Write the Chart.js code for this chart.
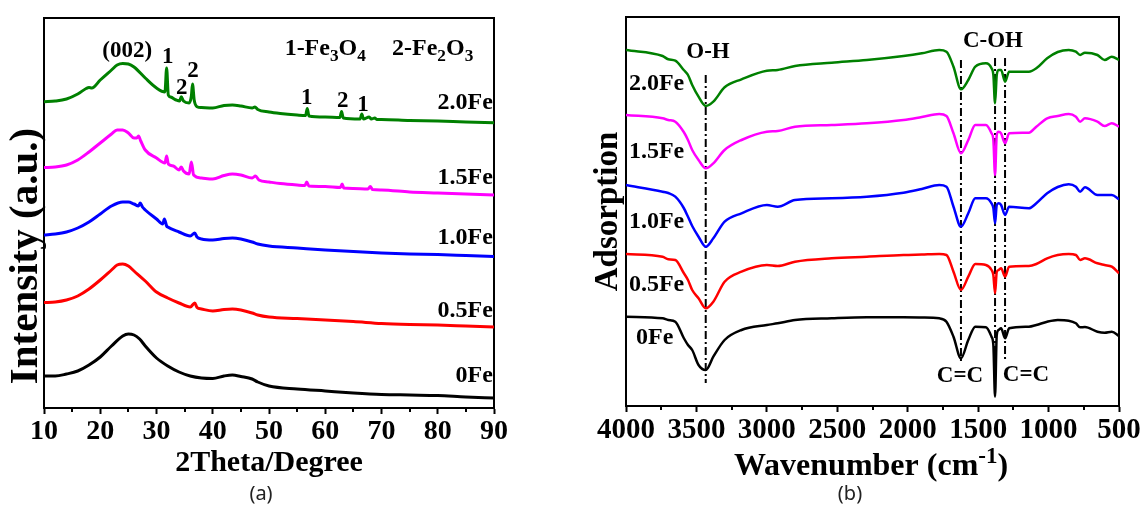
<!DOCTYPE html>
<html>
<head>
<meta charset="utf-8">
<script src="https://cdn.jsdelivr.net/npm/chart.js@4/dist/chart.umd.min.js"></script>
<style>
html,body{margin:0;padding:0;background:#fff;width:1143px;height:510px;overflow:hidden;}
#wa{position:absolute;left:0;top:0;width:560px;height:510px;}
#wb{position:absolute;left:560px;top:0;width:583px;height:510px;}
.cap{position:absolute;width:60px;text-align:center;font-family:"Noto Sans","Open Sans",sans-serif;font-size:20px;line-height:24px;color:#222;}
</style>
</head>
<body>
<div id="wa"><canvas id="ca"></canvas></div>
<div id="wb"><canvas id="cb"></canvas></div>
<div class="cap" style="left:231px;top:481px;">(a)</div>
<div class="cap" style="left:820px;top:481px;">(b)</div>
<script>
// ---------------- XRD data (panel a) ----------------
const xrdTickLabels = [10, 20, 30, 40, 50, 60, 70, 80, 90];
const xrdNames = ['0Fe', '0.5Fe', '1.0Fe', '1.5Fe', '2.0Fe'];
const xrdColors = ['#000000', '#ff0000', '#0000ff', '#ff00ff', '#008000'];

const xrd0Fe_theta = [10,12,14,16,18,20,22,24,25,26,27,28,30,32,34,36,38,40,42,43.5,45,47,48,50,55,60,65,70,75,80,85,90];
const xrd0Fe_int   = [32,32,34,37,43,51,62,72,74,73,69,62,50,42,36,32,30,29.5,32,33,31.5,29,26,22,19,17,15,13.5,13,12.5,11,10];

const xrd05Fe_theta = [10,12,14,16,18,20,22,23,24,25,26,28,30,32,34,36,36.8,37.2,38,40,42,43.5,45,47,48,50,55,60,65,70,75,80,85,90];
const xrd05Fe_int   = [105.5,106,108,112,119,128,138,143,144,142,137,127,116,110,105,101,105,100.5,99,97,98.5,99,98,95,93,91,89.5,88,86.5,84.5,83.5,83,82,81];

const xrd10Fe_theta = [10,12,14,16,18,20,22,24,25,26,26.8,27.1,27.5,28,30,31.1,31.4,31.8,32,34,36,36.8,37.2,38,40,42,43.5,45,47,48,50,55,60,65,70,75,80,85,90];
const xrd10Fe_int   = [173,174,176,180,186,194,202,206,206,204,202,205,201,198,189,184,189,182,181,176,172,175,171,169,168,169.5,170,169,166,164,162,160,158,156.5,155,154,153.5,152.5,151.5];

const xrd15Fe_theta = [10,12,14,16,18,20,22,23,24,25,26,26.5,26.8,27.2,28,30,31.5,31.8,32.1,33,34,34.4,34.8,35.8,36.2,36.6,38,40,42,43.5,45,47,47.6,48.2,50,52,55,56.4,56.7,57.1,60,62.7,63,63.3,65,67.6,68,68.4,70,75,80,85,90];
const xrd15Fe_int   = [240.5,241,243,248,256,265,274,278,278,275,270,270,272,267,258,250,245,252,244,242,238,241,237,234,246,233,230,229,232.5,234,233,230,232,228,226,224.5,223,222.5,226,222,221.5,220.5,224,220,219.5,219,221.5,218.5,218,216,215,214,213];

const xrd20Fe_theta = [10,12,14,16,17.5,18,18.5,20,22,23,24,25,26,28,30,31.5,31.8,32.1,32.5,33.5,34.1,34.4,34.8,35.8,36.2,36.4,36.7,37.2,38,40,42,43.5,45,47,47.5,48,50,52,55,56.5,56.8,57.1,60,62.6,62.9,63.2,66.2,66.5,66.8,67.8,68.2,68.8,69.2,70,75,80,85,90];
const xrd20Fe_int   = [306.3,307,309,314,319.5,320.5,320,328,338,343,344.5,344,341,330,320,316,340,313,311,308,307,311.3,307,305,312,324,308,301.3,300.5,300,302.5,303,302,300,301,298.5,296,294.5,293,292.5,299.5,292,291,290.5,296.5,290,289,294,289,291,289,290,288.5,288.5,287.5,287,286,285.3];

const xrdNameTheta = [89.8, 89.8, 89.8, 89.8, 89.8];
const xrdNameY     = [32.5, 97.5, 170, 230.5, 305];
const peakTagText  = ['1', '2', '2', '1', '2', '1'];
const peakTagTheta = [32.0, 34.5, 36.5, 56.7, 63.1, 66.7];
const peakTagY     = [351, 320, 337, 310, 307, 303];

// ---------------- FTIR data (panel b) ----------------
const ftirTickLabels = [4000, 3500, 3000, 2500, 2000, 1500, 1000, 500];
const ftirNames = ['0Fe', '0.5Fe', '1.0Fe', '1.5Fe', '2.0Fe'];
const wavenumbers = [4000,3740,3700,3650,3590,3560,3530,3485,3434,3380,3300,3180,3000,2923,2800,2540,2290,2030,1900,1776,1725,1675,1622,1570,1520,1445,1405,1392,1380,1368,1355,1337,1309,1280,1140,1087,1010,935,857,806,776,742,653,602,551,500];
const ftir0Fe  = [89.3,87.7,86,84.3,68,61,56,41,36,49.3,66,76,81,82.7,86,87.7,88.7,88.7,88.5,87.7,84.3,69.3,47.7,66,79.3,78.7,69.3,61,9.3,71,76,77.7,67.7,77.7,79.3,81,84.3,86,85.3,82.7,78.7,79,74.3,73.3,74.3,70];
const ftir05Fe = [152,149.3,146.7,146,133,126,116,107.7,97.7,104.3,124.3,134.3,141,140,144.3,147.7,149.3,151,151.5,152,151,134.3,116,129.3,142,141,136,131,112.7,134,136,137.7,129.3,139.3,140,142,147.7,151,152,151,146,147.7,142.7,141,139.3,132.7];
const ftir10Fe = [221,214.3,213,209.3,198,189.3,180,169.3,159.3,167.7,184.3,192.7,201,199.3,206,207.7,209.3,213.3,217,221,219.3,199.3,179.3,192.7,207.7,207.7,202.7,198,182.7,201,202.7,201,191,199.3,197.7,202.7,212.7,219,221.7,219.3,214.3,218.7,211,211,211,206.7];
const ftir15Fe = [291,287.7,286,284.3,274,266,256,246,237.7,242.7,256,266,274.3,275,279.3,281,282.7,286,289,292,290,272.7,252.7,266,281,281,272.7,266,231,271,274.3,272.7,262.7,272.7,273.3,279.3,287.7,290,292,289.3,284.3,287.7,284.3,280,282.7,279.3];
const ftir20Fe = [356,350,346.7,345.3,336,331,321,309.3,300,304.3,318.7,326.7,335.3,336,340,343.3,346,350,352.7,356,354.3,339.3,316.7,326,339.3,342.7,337.7,331,302.7,331,336,336,324.3,334.3,334.3,337.7,347.7,354,356,354.3,351,353.3,351,346,349.3,346];

const ftirNameWn = [3929, 3979, 3979, 3979, 3979];
const ftirNameY  = [68, 121, 184, 254, 322];
const bandLineWn   = [3434, 1622, 1380, 1309];
const bandLineTop  = [331, 346, 348, 348];
const bandLineBot  = [23, 44, 30, 46];
const bandTagText  = ['O-H', 'C-OH', 'C=C', 'C=C'];
const bandTagWn    = [3418, 1395, 1629, 1160];
const bandTagY     = [353.5, 365, 30, 31];

// ---------------- helpers ----------------
const SERIF = '"Liberation Serif","Times New Roman",serif';

function drawRich(ctx, segs, x, y, size, align, baseline, rot) {
  ctx.save();
  ctx.translate(x, y);
  if (rot) ctx.rotate(rot);
  ctx.textAlign = 'left';
  ctx.textBaseline = baseline || 'middle';
  const widths = [];
  let total = 0;
  segs.forEach(s => {
    const fs = s[1] ? size * 0.72 : size;
    ctx.font = 'bold ' + fs + 'px ' + SERIF;
    const w = ctx.measureText(s[0]).width;
    widths.push(w); total += w;
  });
  let cx = align === 'center' ? -total / 2 : (align === 'right' ? -total : 0);
  segs.forEach((s, i) => {
    const fs = s[1] ? size * 0.72 : size;
    ctx.font = 'bold ' + fs + 'px ' + SERIF;
    const dy = s[1] === 'sub' ? size * 0.26 : (s[1] === 'sup' ? -size * 0.36 : 0);
    ctx.fillText(s[0], cx, dy);
    cx += widths[i];
  });
  ctx.restore();
}

const annotPlugin = {
  id: 'annot',
  afterDraw(chart, args, opts) {
    const ctx = chart.ctx, xs = chart.scales.x, ys = chart.scales.y, ca = chart.chartArea;
    ctx.save();
    ctx.strokeStyle = '#000';
    ctx.lineWidth = 2;
    ctx.beginPath();
    xs.ticks.forEach(t => {
      if (!opts.major.includes(t.value)) {
        const px = Math.round(xs.getPixelForValue(t.value));
        ctx.moveTo(px, ca.bottom);
        ctx.lineTo(px, ca.bottom + 4);
      }
    });
    ctx.stroke();
    ctx.fillStyle = '#000';
    (opts.texts || []).forEach(a => {
      drawRich(ctx, a.segs, xs.getPixelForValue(a.x), ys.getPixelForValue(a.y), a.size, a.align || 'center', a.baseline || 'middle', 0);
    });
    (opts.titles || []).forEach(a => {
      drawRich(ctx, a.segs, a.px, a.py, a.size, a.align || 'center', a.baseline || 'middle', a.rot || 0);
    });
    ctx.restore();
  }
};

function fixSize(w, h) {
  return function (scale) {
    if (w !== null) scale.width = w;
    if (h !== null) scale.height = h;
    scale.paddingLeft = 0; scale.paddingRight = 0; scale.paddingTop = 0; scale.paddingBottom = 0;
  };
}

function frameScales() {
  return {
    x2: { type: 'linear', position: 'top', min: 0, max: 1, display: true,
          ticks: { display: false }, grid: { display: false },
          border: { display: true, color: '#000', width: 2 }, afterFit: fixSize(null, 0) },
    y2: { type: 'linear', position: 'right', min: 0, max: 1, display: true,
          ticks: { display: false }, grid: { display: false },
          border: { display: true, color: '#000', width: 2 }, afterFit: fixSize(0, null) }
  };
}

// ---------------- Chart (a) ----------------
const xrdSets = [
  [xrd0Fe_theta, xrd0Fe_int], [xrd05Fe_theta, xrd05Fe_int], [xrd10Fe_theta, xrd10Fe_int],
  [xrd15Fe_theta, xrd15Fe_int], [xrd20Fe_theta, xrd20Fe_int]
];
const xrdTexts = [];
xrdNames.forEach((n, i) => xrdTexts.push({ segs: [[n]], x: xrdNameTheta[i], y: xrdNameY[i], size: 24, align: 'right' }));
peakTagText.forEach((t, i) => xrdTexts.push({ segs: [[t]], x: peakTagTheta[i], y: peakTagY[i], size: 23 }));
xrdTexts.push({ segs: [['(002)']], x: 24.8, y: 357, size: 23 });
xrdTexts.push({ segs: [['1-Fe'], ['3', 'sub'], ['O'], ['4', 'sub']], x: 60, y: 353, size: 24, baseline: 'alphabetic' });
xrdTexts.push({ segs: [['2-Fe'], ['2', 'sub'], ['O'], ['3', 'sub']], x: 79.1, y: 353, size: 24, baseline: 'alphabetic' });

new Chart(document.getElementById('ca'), {
  type: 'line',
  data: {
    datasets: xrdSets.map((s, i) => ({
      label: xrdNames[i],
      data: s[0].map((t, k) => ({ x: t, y: s[1][k] })),
      borderColor: xrdColors[i], borderWidth: 3, pointRadius: 0,
      cubicInterpolationMode: 'monotone', fill: false
    }))
  },
  options: {
    responsive: true, maintainAspectRatio: false, animation: false, devicePixelRatio: 1,
    layout: { padding: { left: 0, right: 66, top: 18, bottom: 0 } },
    plugins: {
      legend: { display: false }, tooltip: { enabled: false },
      annot: {
        major: xrdTickLabels, texts: xrdTexts,
        titles: [
          { segs: [['2Theta/Degree']], px: 269, py: 463, size: 30 },
          { segs: [['Intensity (a.u.)']], px: 26, py: 256, size: 41, rot: -Math.PI / 2 }
        ]
      }
    },
    scales: Object.assign({
      x: {
        type: 'linear', position: 'bottom', min: 10, max: 90,
        ticks: { stepSize: 5, autoSkip: false, maxRotation: 0, padding: 1, color: '#000',
                 font: { family: SERIF, size: 28, weight: 'bold' },
                 callback: v => xrdTickLabels.includes(v) ? String(v) : '' },
        grid: { display: true, drawOnChartArea: false, drawTicks: true, tickLength: 6, tickWidth: 2,
                tickColor: c => (c.tick && xrdTickLabels.includes(c.tick.value)) ? '#000' : 'rgba(0,0,0,0)' },
        border: { display: true, color: '#000', width: 2 },
        afterFit: fixSize(null, 102)
      },
      y: {
        type: 'linear', position: 'left', min: 0, max: 390,
        ticks: { display: false }, grid: { display: false },
        border: { display: true, color: '#000', width: 2 },
        afterFit: fixSize(44, null)
      }
    }, frameScales())
  },
  plugins: [annotPlugin]
});

// ---------------- Chart (b) ----------------
const ftirSeries = [ftir0Fe, ftir05Fe, ftir10Fe, ftir15Fe, ftir20Fe];
const ftirDatasets = ftirSeries.map((s, i) => ({
  label: ftirNames[i],
  data: wavenumbers.map((w, k) => ({ x: w, y: s[k] })),
  borderColor: xrdColors[i], borderWidth: 2.5, pointRadius: 0,
  cubicInterpolationMode: 'monotone', fill: false
}));
bandLineWn.forEach((w, i) => ftirDatasets.push({
  label: 'band' + i,
  data: [{ x: w, y: bandLineTop[i] }, { x: w, y: bandLineBot[i] }],
  borderColor: '#000', borderWidth: 2, borderDash: [8, 3, 2, 3], pointRadius: 0, fill: false
}));
const ftirTexts = [];
ftirNames.forEach((n, i) => ftirTexts.push({ segs: [[n]], x: ftirNameWn[i], y: ftirNameY[i], size: 24, align: 'left' }));
bandTagText.forEach((t, i) => ftirTexts.push({ segs: [[t]], x: bandTagWn[i], y: bandTagY[i], size: 23 }));

new Chart(document.getElementById('cb'), {
  type: 'line',
  data: { datasets: ftirDatasets },
  options: {
    responsive: true, maintainAspectRatio: false, animation: false, devicePixelRatio: 1,
    layout: { padding: { left: 0, right: 24, top: 17, bottom: 0 } },
    plugins: {
      legend: { display: false }, tooltip: { enabled: false },
      annot: { major: ftirTickLabels, texts: ftirTexts,
               titles: [{ segs: [['Wavenumber (cm'], ['-1', 'sup'], [')']], px: 311, py: 475, size: 32, baseline: 'alphabetic' }] }
    },
    scales: Object.assign({
      x: {
        type: 'linear', position: 'bottom', min: 500, max: 4000, reverse: true,
        ticks: { stepSize: 250, autoSkip: false, maxRotation: 0, padding: 1, color: '#000',
                 font: { family: SERIF, size: 29, weight: 'bold' },
                 callback: v => ftirTickLabels.includes(v) ? String(v) : '' },
        grid: { display: true, drawOnChartArea: false, drawTicks: true, tickLength: 6, tickWidth: 2,
                tickColor: c => (c.tick && ftirTickLabels.includes(c.tick.value)) ? '#000' : 'rgba(0,0,0,0)' },
        border: { display: true, color: '#000', width: 2 },
        afterFit: fixSize(null, 104)
      },
      y: {
        type: 'linear', position: 'left', min: 0, max: 389,
        ticks: { display: false }, grid: { display: false },
        border: { display: true, color: '#000', width: 2 },
        title: { display: true, text: 'Adsorption', color: '#000',
                 font: { family: SERIF, size: 33, weight: 'bold' }, padding: { top: 29, bottom: 0 } },
        afterFit: fixSize(66, null)
      }
    }, frameScales())
  },
  plugins: [annotPlugin]
});
</script>
</body>
</html>
